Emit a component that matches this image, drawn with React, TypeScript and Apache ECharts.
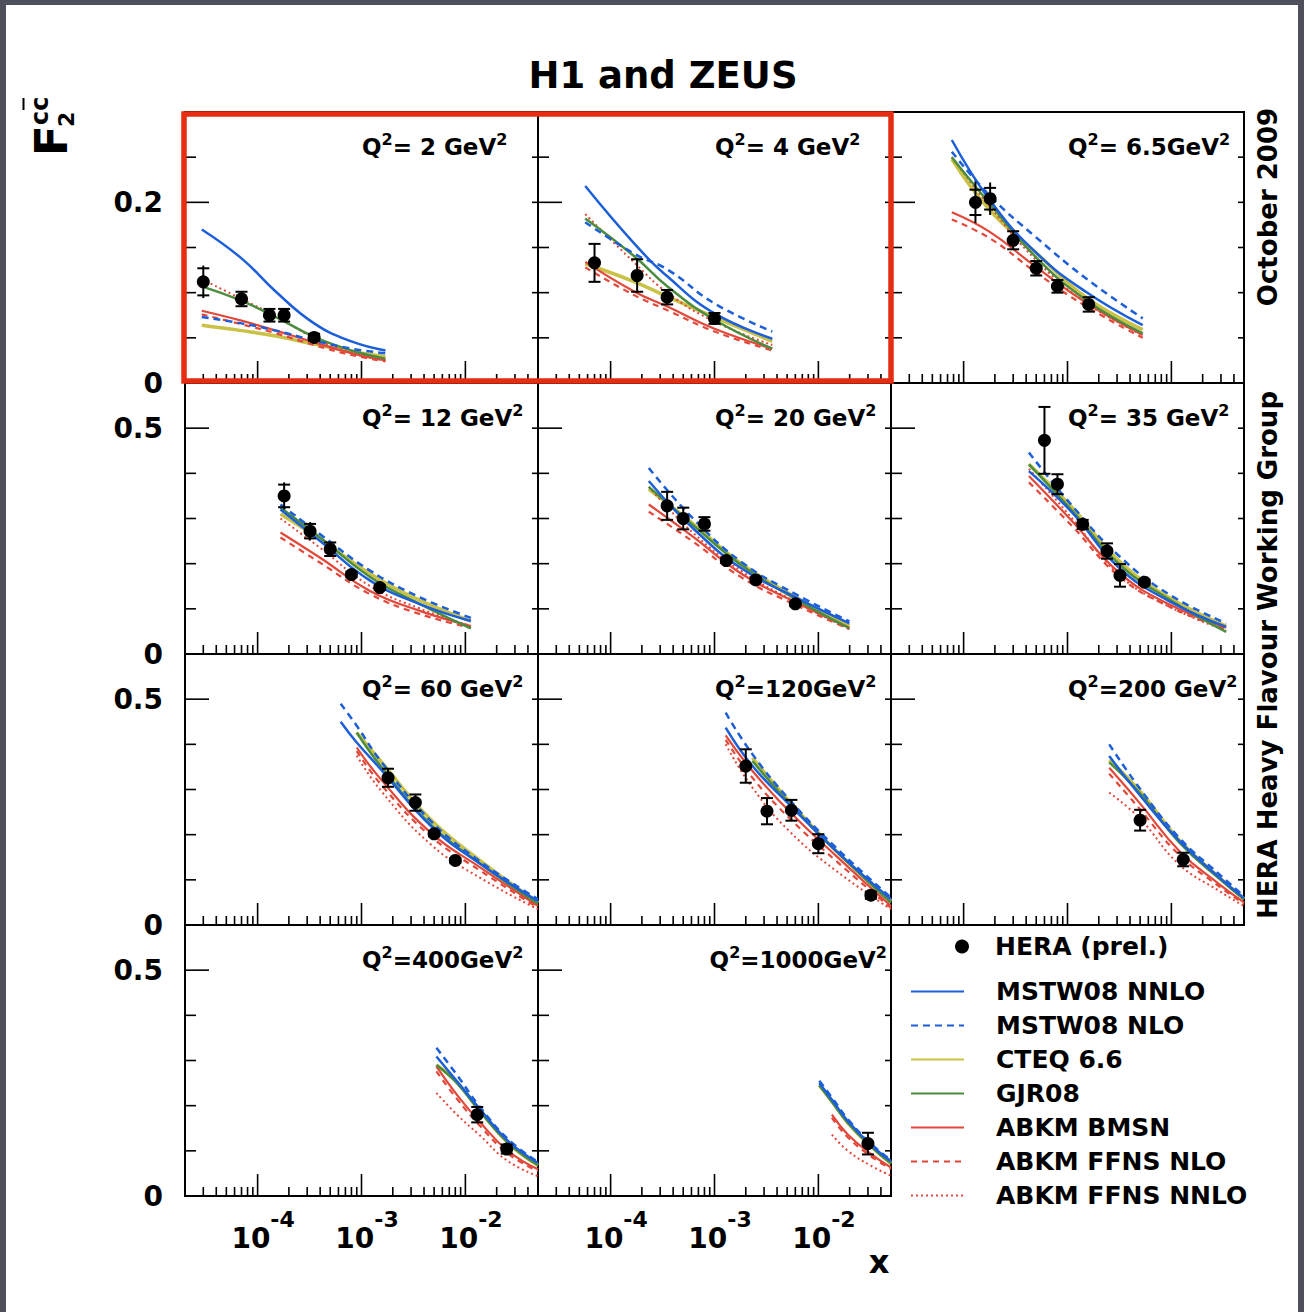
import React, { useEffect, useRef } from "react";
import * as echarts from "echarts";

// ---------------- data ----------------
const Q2_TEXT = ["= 2 GeV", "= 4 GeV", "= 6.5GeV", "= 12 GeV", "= 20 GeV", "= 35 GeV", "= 60 GeV", "=120GeV", "=200 GeV", "=400GeV", "=1000GeV"];

const THEORY_X = [
  [2.9e-5, 7e-5, 1.5e-4, 3.5e-4, 8e-4, 1.7e-3],
  [5.7e-5, 1.7e-4, 3.6e-4, 1e-3, 3.6e-3],
  [7.7e-5, 1.8e-4, 4.9e-4, 1.5e-3, 5.3e-3],
  [1.66e-4, 4.0e-4, 1.22e-3, 3.7e-3, 1.13e-2],
  [2.33e-4, 6.1e-4, 1.86e-3, 6.1e-3, 1.99e-2],
  [4.25e-4, 1.11e-3, 3.14e-3, 9.5e-3, 3.37e-2],
  [6.3e-4, 9e-4, 1.53e-3, 4.66e-3, 1.42e-2, 5e-2],
  [1.28e-3, 2.32e-3, 5.24e-3, 1.48e-2, 5e-2],
  [2.52e-3, 4.91e-3, 1.19e-2, 2.9e-2, 5e-2],
  [5.26e-3, 8.3e-3, 1.35e-2, 2.57e-2, 5e-2],
  [1.02e-2, 1.35e-2, 1.92e-2, 3.2e-2, 5e-2],
];

const MSTW08_NNLO = [
  [0.170, 0.138, 0.101, 0.066, 0.046, 0.036],
  [0.218, 0.154, 0.117, 0.077, 0.049],
  [0.269, 0.202, 0.145, 0.101, 0.064],
  [0.320, 0.250, 0.162, 0.110, 0.073],
  [0.383, 0.280, 0.188, 0.125, 0.068],
  [0.405, 0.313, 0.191, 0.117, 0.060],
  [0.450, 0.404, 0.345, 0.219, 0.134, 0.053],
  [0.437, 0.352, 0.267, 0.164, 0.057],
  [0.374, 0.289, 0.186, 0.105, 0.060],
  [0.309, 0.254, 0.195, 0.122, 0.073],
  [0.250, 0.213, 0.166, 0.113, 0.077],
];
const MSTW08_NLO = [
  [0.073, 0.066, 0.058, 0.047, 0.038, 0.033],
  [0.178, 0.143, 0.125, 0.088, 0.057],
  [0.256, 0.207, 0.162, 0.116, 0.0715],
  [0.331, 0.265, 0.184, 0.125, 0.080],
  [0.412, 0.302, 0.202, 0.132, 0.072],
  [0.446, 0.328, 0.217, 0.132, 0.068],
  [0.490, 0.441, 0.363, 0.230, 0.139, 0.057],
  [0.470, 0.378, 0.278, 0.171, 0.061],
  [0.400, 0.304, 0.193, 0.112, 0.064],
  [0.328, 0.268, 0.200, 0.126, 0.075],
  [0.255, 0.218, 0.170, 0.116, 0.079],
];
const CTEQ66 = [
  [0.064, 0.058, 0.052, 0.043, 0.035, 0.029],
  [0.132, 0.112, 0.095, 0.073, 0.046],
  [0.248, 0.191, 0.145, 0.095, 0.059],
  [0.310, 0.254, 0.177, 0.118, 0.073],
  [0.365, 0.290, 0.198, 0.125, 0.062],
  [0.420, 0.324, 0.206, 0.125, 0.062],
  [null, 0.426, 0.363, 0.233, 0.141, 0.049],
  [null, 0.370, 0.274, 0.164, 0.053],
  [0.365, 0.298, 0.188, 0.105, 0.058],
  [0.290, 0.252, 0.192, 0.118, 0.068],
  [0.245, 0.210, 0.162, 0.110, 0.072],
];
const GJR08 = [
  [0.107, 0.091, 0.073, 0.051, 0.036, 0.027],
  [0.182, 0.140, 0.106, 0.070, 0.038],
  [0.250, 0.198, 0.140, 0.092, 0.055],
  [0.324, 0.258, 0.170, 0.110, 0.057],
  [0.370, 0.287, 0.195, 0.121, 0.057],
  [0.420, 0.317, 0.199, 0.121, 0.049],
  [null, 0.426, 0.352, 0.222, 0.134, 0.047],
  [null, 0.363, 0.270, 0.164, 0.049],
  [0.360, 0.293, 0.183, 0.102, 0.057],
  [0.290, 0.250, 0.190, 0.118, 0.068],
  [0.245, 0.208, 0.162, 0.110, 0.072],
];
const ABKM_BMSN = [
  [0.080, 0.069, 0.058, 0.045, 0.033, 0.025],
  [0.134, 0.101, 0.084, 0.060, 0.038],
  [0.189, 0.167, 0.129, 0.089, 0.053],
  [0.269, 0.213, 0.139, 0.095, 0.062],
  [0.331, 0.261, 0.176, 0.114, 0.058],
  [0.394, 0.294, 0.180, 0.110, 0.058],
  [null, 0.393, 0.323, 0.204, 0.126, 0.042],
  [0.420, 0.341, 0.252, 0.153, 0.042],
  [0.348, 0.271, 0.164, 0.090, 0.050],
  [0.287, 0.224, 0.166, 0.100, 0.059],
  [null, 0.180, 0.136, 0.093, 0.063],
];
const ABKM_FFNS_NLO = [
  [0.076, 0.065, 0.055, 0.042, 0.031, 0.024],
  [0.128, 0.097, 0.080, 0.057, 0.036],
  [0.181, 0.160, 0.123, 0.085, 0.050],
  [0.258, 0.202, 0.132, 0.088, 0.058],
  [0.315, 0.250, 0.168, 0.108, 0.055],
  [0.380, 0.283, 0.172, 0.105, 0.055],
  [null, 0.385, 0.312, 0.196, 0.119, 0.038],
  [0.410, 0.326, 0.237, 0.142, 0.038],
  [0.335, 0.258, 0.155, 0.085, 0.047],
  [0.276, 0.215, 0.158, 0.094, 0.055],
  [null, 0.173, 0.130, 0.088, 0.060],
];
const ABKM_FFNS_NNLO = [
  [0.115, 0.093, 0.074, 0.050, 0.033, 0.025],
  [0.187, 0.133, 0.099, 0.068, 0.042],
  [0.250, 0.195, 0.137, 0.089, 0.053],
  [0.300, 0.235, 0.150, 0.100, 0.062],
  [0.370, 0.270, 0.182, 0.115, 0.055],
  [0.410, 0.300, 0.175, 0.105, 0.052],
  [null, 0.375, 0.298, 0.178, 0.103, 0.035],
  [0.400, 0.304, 0.208, 0.120, 0.035],
  [0.293, 0.237, 0.134, 0.075, 0.042],
  [0.228, 0.180, 0.136, 0.077, 0.044],
  [null, 0.136, 0.100, 0.067, 0.045],
];

const HERA_X = [
  [3e-5, 7e-5, 1.3e-4, 1.8e-4, 3.5e-4],
  [7e-5, 1.8e-4, 3.5e-4, 1e-3],
  [1.3e-4, 1.8e-4, 3e-4, 5e-4, 8e-4, 1.6e-3],
  [1.8e-4, 3.2e-4, 5e-4, 8e-4, 1.5e-3],
  [3.5e-4, 5e-4, 8e-4, 1.3e-3, 2.5e-3, 6e-3],
  [6e-4, 8e-4, 1.4e-3, 2.4e-3, 3.2e-3, 5.5e-3],
  [1.8e-3, 3.3e-3, 5e-3, 8e-3],
  [2e-3, 3.2e-3, 5.5e-3, 1e-2, 3.2e-2],
  [5e-3, 1.3e-2],
  [1.3e-2, 2.5e-2],
  [3e-2],
];
const HERA_Y = [
  [0.112, 0.093, 0.075, 0.075, 0.0505],
  [0.133, 0.119, 0.095, 0.0715],
  [0.200, 0.204, 0.158, 0.127, 0.107, 0.087],
  [0.350, 0.272, 0.232, 0.176, 0.147],
  [0.328, 0.300, 0.288, 0.207, 0.164, 0.111],
  [0.473, 0.376, 0.287, 0.228, 0.174, 0.159],
  [0.326, 0.271, 0.202, 0.143],
  [0.352, 0.252, 0.254, 0.180, 0.066],
  [0.232, 0.145],
  [0.180, 0.104],
  [0.116],
];
const HERA_ERR = [
  [0.018, 0.008, 0.007, 0.007, 0.004],
  [0.021, 0.018, 0.008, 0.006],
  [0.023, 0.018, 0.010, 0.008, 0.007, 0.008],
  [0.030, 0.020, 0.015, 0.006, 0.005],
  [0.031, 0.024, 0.015, 0.005, 0.005, 0.005],
  [0.074, 0.022, 0.010, 0.017, 0.025, 0.006],
  [0.020, 0.018, 0.006, 0.005],
  [0.037, 0.029, 0.023, 0.021, 0.008],
  [0.023, 0.015],
  [0.017, 0.010],
  [0.024],
];
const HERA_STAT = [
  [0.015, 0.008, 0.007, 0.007, 0.004],
  [0.021, 0.018, 0.008, 0.006],
  [0.014, 0.012, 0.010, 0.008, 0.007, 0.008],
  [0.025, 0.016, 0.015, 0.006, 0.005],
  [0.031, 0.024, 0.015, 0.005, 0.005, 0.005],
  [0.074, 0.022, 0.010, 0.017, 0.025, 0.006],
  [0.020, 0.018, 0.006, 0.005],
  [0.037, 0.029, 0.023, 0.021, 0.008],
  [0.023, 0.015],
  [0.017, 0.010],
  [0.024],
];

const MODEL_NAMES = ["MSTW08 NNLO", "MSTW08 NLO", "CTEQ 6.6", "GJR08", "ABKM BMSN", "ABKM FFNS NLO", "ABKM FFNS NNLO"];
const MODEL_VALUES = [MSTW08_NNLO, MSTW08_NLO, CTEQ66, GJR08, ABKM_BMSN, ABKM_FFNS_NLO, ABKM_FFNS_NNLO];

const Y_MAX_ROW = [0.3, 0.6, 0.6, 0.6];
const Y_MAJOR_ROW = [0.2, 0.5, 0.5, 0.5];
const Y_LABELS_ROW = [[0, 0.2], [0, 0.5], [0, 0.5], [0, 0.5]];
const Y_MINOR_ROW = [[0.05, 0.1, 0.15, 0.25], [0.1, 0.2, 0.3, 0.4], [0.1, 0.2, 0.3, 0.4], [0.1, 0.2, 0.3, 0.4]];
const X_DECADES = [1e-4, 1e-3, 1e-2];

// ---------------- layout / style ----------------
const X_MIN = 2e-5;
const X_MAX = 0.05;
const GRID_X0 = 185;
const GRID_Y0 = 112;
const COL_W = 353;
const ROW_H = 271;
const PANEL_ROW = [0, 0, 0, 1, 1, 1, 2, 2, 2, 3, 3];
const PANEL_COL = [0, 1, 2, 0, 1, 2, 0, 1, 2, 0, 1];
const FONT = '"DejaVu Sans", sans-serif';

const BLUE = "#1c5fd8";
const YELLOW = "#c9c246";
const GREEN = "#4b8c3e";
const RED = "#e2483a";
const MODEL_STYLE: any[] = [
  { color: BLUE, type: "solid", width: 2.5 },
  { color: BLUE, type: [7, 5], width: 2.5 },
  { color: YELLOW, type: "solid", width: 3.5 },
  { color: GREEN, type: "solid", width: 2.5 },
  { color: RED, type: "solid", width: 2.2 },
  { color: RED, type: [6, 5], width: 2.2 },
  { color: RED, type: [2, 3], width: 2 },
];
const DRAW_ORDER = [2, 6, 5, 4, 3, 1, 0];

function xTickData(): number[][] {
  const out: number[][] = [];
  [1e-5, 1e-4, 1e-3, 1e-2].forEach((d) => {
    for (let m = 1; m <= 9; m++) {
      const v = m * d;
      if (v <= X_MIN * 1.0001 || v >= X_MAX * 0.9999) continue;
      out.push([v, 0, X_DECADES.some((D) => Math.abs(D - v) / D < 1e-6) ? 1 : 0]);
    }
  });
  return out;
}

function buildOption() {
  const grids: any[] = [];
  const xAxes: any[] = [];
  const yAxes: any[] = [];
  const series: any[] = [];
  const graphic: any[] = [];
  const xTicks = xTickData();

  for (let i = 0; i < 11; i++) {
    const r = PANEL_ROW[i];
    const c = PANEL_COL[i];
    const left = GRID_X0 + c * COL_W;
    const top = GRID_Y0 + r * ROW_H;
    grids.push({ left, top, width: COL_W, height: ROW_H, show: true, borderColor: "#000", borderWidth: 2, backgroundColor: "rgba(0,0,0,0)" });
    xAxes.push({
      type: "log",
      logBase: 10,
      gridIndex: i,
      min: X_MIN,
      max: X_MAX,
      axisLine: { show: false },
      axisTick: { show: false },
      splitLine: { show: false },
      axisLabel:
        r === 3
          ? {
              show: true,
              margin: 12,
              padding: [0, 0, 0, 11],
              formatter: (v: number) => {
                const l = Math.log10(v);
                const e = Math.round(l);
                if (Math.abs(l - e) > 1e-6) return "";
                return `{b|10}{s|${e}}`;
              },
              rich: {
                b: { fontSize: 28, fontWeight: "bold", fontFamily: FONT, color: "#000", verticalAlign: "bottom" },
                s: { fontSize: 22, fontWeight: "bold", fontFamily: FONT, color: "#000", padding: [0, 0, 22, 0], verticalAlign: "bottom" },
              },
            }
          : { show: false },
    });
    const labels = Y_LABELS_ROW[r];
    yAxes.push({
      type: "value",
      gridIndex: i,
      min: 0,
      max: Y_MAX_ROW[r],
      interval: Y_MAJOR_ROW[r],
      axisLine: { show: false },
      axisTick: { show: false },
      splitLine: { show: false },
      axisLabel:
        c === 0
          ? {
              show: true,
              margin: 22,
              fontSize: 28,
              fontWeight: "bold",
              fontFamily: FONT,
              color: "#000",
              formatter: (v: number) => (labels.some((l) => Math.abs(l - v) < 1e-9) ? String(v) : ""),
            }
          : { show: false },
    });

    // ticks
    const tickData = xTicks.concat(
      Y_MINOR_ROW[r].map((v) => [X_MIN, v, 2]),
      [[X_MIN, Y_MAJOR_ROW[r], 3]]
    );
    series.push({
      type: "custom",
      xAxisIndex: i,
      yAxisIndex: i,
      silent: true,
      clip: false,
      z: 3,
      dimensions: ["x", "y", "k"],
      encode: { x: 0, y: 1 },
      data: tickData,
      renderItem: (params: any, api: any) => {
        const cs = params.coordSys;
        const k = api.value(2);
        const st = { stroke: "#000", lineWidth: 1.6 };
        if (k < 2) {
          const px = api.coord([api.value(0), 0.0001])[0];
          const b = cs.y + cs.height;
          const len = k === 1 ? 22 : 9;
          return { type: "line", shape: { x1: px, y1: b, x2: px, y2: b - len }, style: st };
        }
        const py = api.coord([X_MIN, api.value(1)])[1];
        const lenL = k === 3 ? 24 : 11;
        const lenR = 6;
        return {
          type: "group",
          children: [
            { type: "line", shape: { x1: cs.x, y1: py, x2: cs.x + lenL, y2: py }, style: st },
            { type: "line", shape: { x1: cs.x + cs.width, y1: py, x2: cs.x + cs.width - lenR, y2: py }, style: st },
          ],
        };
      },
    });

    // theory curves
    DRAW_ORDER.forEach((m) => {
      const vals = MODEL_VALUES[m][i];
      const data = THEORY_X[i].map((x, k) => [x, vals[k]]).filter((d) => d[1] !== null && d[1] !== undefined);
      const s = MODEL_STYLE[m];
      series.push({
        type: "line",
        name: MODEL_NAMES[m],
        xAxisIndex: i,
        yAxisIndex: i,
        data,
        smooth: 0.45,
        symbol: "none",
        showSymbol: false,
        silent: true,
        z: 2,
        itemStyle: { color: s.color },
        lineStyle: { color: s.color, width: s.width, type: s.type },
      });
    });

    // error bars
    series.push({
      type: "custom",
      xAxisIndex: i,
      yAxisIndex: i,
      silent: true,
      clip: false,
      z: 4,
      dimensions: ["x", "y", "e", "s"],
      encode: { x: 0, y: 1 },
      data: HERA_X[i].map((x, k) => [x, HERA_Y[i][k], HERA_ERR[i][k], HERA_STAT[i][k]]),
      renderItem: (params: any, api: any) => {
        const x = api.value(0);
        const y = api.value(1);
        const e = api.value(2);
        const s = api.value(3);
        const p = api.coord([x, y]);
        const t = api.coord([x, y + e]);
        const b = api.coord([x, y - e]);
        const ct = api.coord([x, y + s]);
        const cb = api.coord([x, y - s]);
        const st = { stroke: "#000", lineWidth: 2 };
        return {
          type: "group",
          children: [
            { type: "line", shape: { x1: p[0], y1: t[1], x2: p[0], y2: b[1] }, style: st },
            { type: "line", shape: { x1: p[0] - 6, y1: ct[1], x2: p[0] + 6, y2: ct[1] }, style: st },
            { type: "line", shape: { x1: p[0] - 6, y1: cb[1], x2: p[0] + 6, y2: cb[1] }, style: st },
          ],
        };
      },
    });

    // data points
    series.push({
      type: "scatter",
      name: "HERA (prel.)",
      xAxisIndex: i,
      yAxisIndex: i,
      symbol: "circle",
      symbolSize: 13,
      silent: true,
      z: 5,
      itemStyle: { color: "#000", opacity: 1 },
      data: HERA_X[i].map((x, k) => [x, HERA_Y[i][k]]),
    });

    // Q2 label
    const alignRight = i === 10;
    graphic.push({
      type: "text",
      z: 50,
      x: alignRight ? left + COL_W - 4 : left + 177,
      y: top + 33,
      style: {
        text: `{m|Q}{s|2}{m|${Q2_TEXT[i]}}{s|2}`,
        align: alignRight ? "right" : "left",
        textAlign: alignRight ? "right" : "left",
        verticalAlign: "middle",
        textVerticalAlign: "middle",
        fill: "#000",
        rich: {
          m: { fontSize: 23, fontWeight: "bold", fontFamily: FONT, fill: "#000", verticalAlign: "bottom" },
          s: { fontSize: 16, fontWeight: "bold", fontFamily: FONT, fill: "#000", padding: [0, 0, 11, 0], verticalAlign: "bottom" },
        },
      },
    });
  }

  // page background
  graphic.unshift({ type: "rect", z: -100, silent: true, shape: { x: 6, y: 5, width: 1292, height: 1307 }, style: { fill: "#ffffff" } });

  const tStyle = (size: number) => ({ font: `bold ${size}px ${FONT}`, fill: "#000" });
  graphic.push(
    { type: "text", z: 50, x: 663, y: 75, style: { ...tStyle(37), text: "H1 and ZEUS", align: "center", textAlign: "center", verticalAlign: "middle", textVerticalAlign: "middle" } },
    { type: "text", z: 50, x: 1268, y: 207, rotation: Math.PI / 2, style: { ...tStyle(26), text: "October 2009", align: "center", textAlign: "center", verticalAlign: "middle", textVerticalAlign: "middle" } },
    { type: "text", z: 50, x: 1268, y: 655, rotation: Math.PI / 2, style: { ...tStyle(26), text: "HERA Heavy Flavour Working Group", align: "center", textAlign: "center", verticalAlign: "middle", textVerticalAlign: "middle" } },
    { type: "text", z: 50, x: 879, y: 1262, style: { ...tStyle(32), text: "x", align: "center", textAlign: "center", verticalAlign: "middle", textVerticalAlign: "middle" } },
    {
      type: "group",
      z: 50,
      x: 51.5,
      y: 156,
      rotation: Math.PI / 2,
      children: [
        { type: "text", style: { ...tStyle(45), text: "F", x: 0, y: 0, align: "left", textAlign: "left", verticalAlign: "middle", textVerticalAlign: "middle" } },
        { type: "text", style: { ...tStyle(24), text: "cc", x: 31, y: -12, align: "left", textAlign: "left", verticalAlign: "middle", textVerticalAlign: "middle" } },
        { type: "text", style: { ...tStyle(22), text: "2", x: 29, y: 15, align: "left", textAlign: "left", verticalAlign: "middle", textVerticalAlign: "middle" } },
        { type: "line", shape: { x1: 46, y1: -28, x2: 58, y2: -28 }, style: { stroke: "#000", lineWidth: 2 } },
      ],
    },
    { type: "rect", z: 200, silent: true, shape: { x: 184, y: 114, width: 707, height: 267 }, style: { fill: "none", stroke: "#e42d12", lineWidth: 5.5 } }
  );

  const legendText = (padLeft: number) => ({
    fontFamily: FONT,
    fontWeight: "bold",
    fontSize: 25,
    lineHeight: 25,
    color: "#000",
    padding: [0, 0, 0, padLeft],
  });

  return {
    animation: false,
    backgroundColor: "#4d4f5a",
    grid: grids,
    xAxis: xAxes,
    yAxis: yAxes,
    legend: [
      {
        data: ["HERA (prel.)"],
        left: 955,
        top: 934,
        padding: 0,
        itemWidth: 14,
        itemHeight: 14,
        selectedMode: false,
        icon: "circle",
        itemStyle: { color: "#000", opacity: 1 },
        textStyle: legendText(21),
      },
      {
        data: MODEL_NAMES,
        orient: "vertical",
        left: 910,
        top: 979,
        padding: 0,
        itemGap: 9,
        itemWidth: 53,
        itemHeight: 14,
        selectedMode: false,
        itemStyle: { opacity: 0, borderWidth: 0 },
        textStyle: legendText(27),
      },
    ],
    graphic: { elements: graphic },
    series,
  };
}

export default function App() {
  const ref = useRef<HTMLDivElement>(null);
  useEffect(() => {
    if (!ref.current) return;
    const chart = echarts.init(ref.current, null, { renderer: "svg" });
    chart.setOption(buildOption() as any);
    return () => chart.dispose();
  }, []);
  return <div ref={ref} style={{ position: "absolute", left: 0, top: 0, width: 1304, height: 1312 }} />;
}
